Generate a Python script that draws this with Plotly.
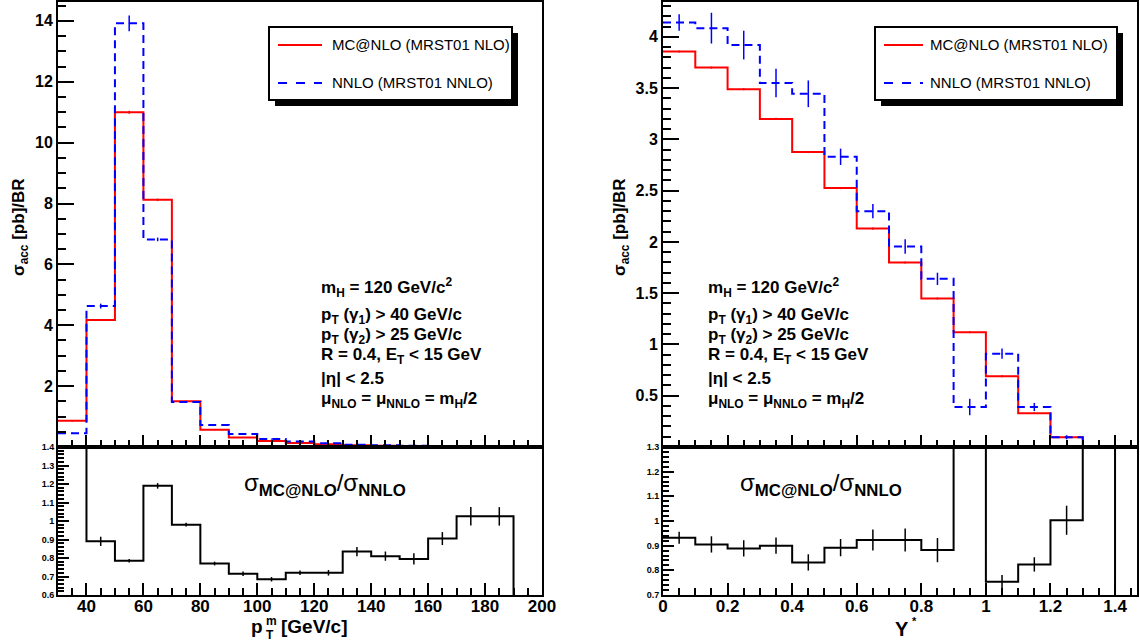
import plotly.graph_objects as go

W, H = 1140, 643

# ---------------- data ----------------
pt_edges = [30, 40, 50, 60, 70, 80, 90, 100, 110, 120, 130, 140, 150, 160, 170, 180, 190, 200]
mc_pt = [0.86, 4.17, 11.0, 8.12, 1.50, 0.57, 0.31, 0.20, 0.13, 0.09, 0.06, 0.045, 0.03, 0.02, 0.015, 0.01, 0.0]
mc_pt_err = [0.02, 0.03, 0.05, 0.04, 0.02, 0.01, 0.01, 0.01, 0.005, 0.005, 0.004, 0.003, 0.003, 0.002, 0.002, 0.001, 0.0]
nnlo_pt = [0.45, 4.63, 13.92, 6.82, 1.48, 0.72, 0.43, 0.26, 0.18, 0.125, 0.072, 0.056, 0.038, 0.022, 0.015, 0.01, 0.0]
nnlo_pt_err = [0.02, 0.08, 0.26, 0.06, 0.03, 0.02, 0.01, 0.01, 0.005, 0.005, 0.004, 0.003, 0.003, 0.002, 0.002, 0.001, 0.0]
ratio_pt = [1.9, 0.89, 0.785, 1.19, 0.98, 0.77, 0.715, 0.685, 0.72, 0.72, 0.835, 0.81, 0.795, 0.905, 1.025, 1.025, 0.0]
ratio_pt_err = [0.05, 0.025, 0.01, 0.015, 0.01, 0.01, 0.012, 0.012, 0.012, 0.015, 0.025, 0.025, 0.03, 0.035, 0.05, 0.05, 0.0]

y_edges = [0.0, 0.1, 0.2, 0.3, 0.4, 0.5, 0.6, 0.7, 0.8, 0.9, 1.0, 1.1, 1.2, 1.3, 1.4, 1.5]
mc_y = [3.857, 3.70, 3.49, 3.20, 2.876, 2.525, 2.13, 1.80, 1.449, 1.12, 0.69, 0.33, 0.095, 0.01, 0.0]
mc_y_err = [0.01, 0.01, 0.01, 0.01, 0.01, 0.01, 0.01, 0.01, 0.01, 0.01, 0.01, 0.005, 0.005, 0.002, 0.0]
nnlo_y = [4.14, 4.085, 3.92, 3.55, 3.445, 2.83, 2.30, 1.955, 1.64, 0.39, 0.91, 0.39, 0.095, 0.005, 0.0]
nnlo_y_err = [0.08, 0.15, 0.14, 0.14, 0.13, 0.08, 0.07, 0.07, 0.06, 0.08, 0.05, 0.04, 0.02, 0.005, 0.0]
ratio_y = [0.932, 0.905, 0.889, 0.90, 0.832, 0.892, 0.923, 0.923, 0.882, 2.9, 0.754, 0.824, 1.003, 2.0, 0.0]
ratio_y_err = [0.024, 0.033, 0.033, 0.033, 0.033, 0.035, 0.043, 0.047, 0.049, 0.1, 0.027, 0.029, 0.059, 0.1, 0.0]

legend_labels = ["MC@NLO (MRST01 NLO)", "NNLO (MRST01 NNLO)"]
info_lines = [
    "m<sub>H</sub> = 120 GeV/c<sup>2</sup>",
    "p<sub>T</sub> (γ<sub>1</sub>) &gt; 40 GeV/c",
    "p<sub>T</sub> (γ<sub>2</sub>) &gt; 25 GeV/c",
    "R = 0.4, E<sub>T</sub> &lt; 15 GeV",
    "|η| &lt; 2.5",
    "μ<sub>NLO</sub> = μ<sub>NNLO</sub> = m<sub>H</sub>/2",
]
ratio_label = "σ<sub><b>MC@NLO</b></sub>/σ<sub><b>NNLO</b></sub>"
ytitle = "<b>σ<sub>acc</sub> [pb]/BR</b>"
xtitle_left_parts = ["<b>p</b>", "<b>m</b>", "<b>T</b>", "<b>[GeV/c]</b>"]
xtitle_right = "<b>Y</b>"
xtitle_right_sup = "<b>*</b>"

RED = "#ff0000"
BLUE = "#0000ff"
FONT = "Liberation Sans"


def px(x):
    return x / W


def py(y):
    return 1 - y / H


def centers(edges):
    return [(edges[i] + edges[i + 1]) / 2 for i in range(len(edges) - 1)]


fig = go.Figure()


def add_hist(edges, vals, errs, color, dash, xa, ya, width=2):
    fig.add_trace(go.Scatter(
        x=edges, y=list(vals) + [vals[-1]], mode="lines", line_shape="hv",
        line=dict(color=color, width=width, dash=dash), xaxis=xa, yaxis=ya,
        showlegend=False, hoverinfo="skip"))
    fig.add_trace(go.Scatter(
        x=centers(edges), y=vals, mode="markers", marker=dict(size=1, color=color),
        error_y=dict(type="data", array=errs, color=color, thickness=1.5, width=0),
        xaxis=xa, yaxis=ya, showlegend=False, hoverinfo="skip"))


DASH = "8px,5px"
add_hist(pt_edges, mc_pt, mc_pt_err, RED, "solid", "x", "y")
add_hist(pt_edges, nnlo_pt, nnlo_pt_err, BLUE, DASH, "x", "y")
add_hist(pt_edges, ratio_pt, ratio_pt_err, "black", "solid", "x2", "y2")
add_hist(y_edges, mc_y, mc_y_err, RED, "solid", "x3", "y3")
add_hist(y_edges, nnlo_y, nnlo_y_err, BLUE, DASH, "x3", "y3")
add_hist(y_edges, ratio_y, ratio_y_err, "black", "solid", "x4", "y4")

common = dict(showline=True, linewidth=2, linecolor="black", mirror=True,
              showgrid=False, zeroline=False, ticks="inside", tickcolor="black",
              tickwidth=1.5, automargin=False)

tf_big = dict(family=FONT, size=16, color="black", weight="bold")
tf_small = dict(family=FONT, size=9, color="black", weight="bold")
tf_x = dict(family=FONT, size=17, color="black", weight="bold")

xl_dom = [px(58), px(542)]
xr_dom = [px(663), px(1137)]
top_dom = [py(447), py(2)]
bot_dom = [py(595), py(447)]

fig.update_layout(
    xaxis=dict(domain=xl_dom, range=[30, 200], anchor="y", showticklabels=False,
               tick0=0, dtick=20, ticklen=12,
               minor=dict(dtick=5, ticklen=7, ticks="inside", tickcolor="black"), **common),
    yaxis=dict(domain=top_dom, range=[0, 14.62], anchor="x",
               tickmode="array", tickvals=[2, 4, 6, 8, 10, 12, 14], ticklen=16,
               tickfont=tf_big,
               minor=dict(tickmode="linear", tick0=0, dtick=0.5, ticklen=8, ticks="inside", tickcolor="black"),
               **common),
    xaxis2=dict(domain=xl_dom, range=[30, 200], anchor="y2", tick0=0, dtick=20, ticklen=12,
                tickfont=tf_x, ticklabelstandoff=-5,
                minor=dict(dtick=5, ticklen=7, ticks="inside", tickcolor="black"), **common),
    yaxis2=dict(domain=bot_dom, range=[0.6, 1.4], anchor="x2", tick0=0.6, dtick=0.1, ticklen=11,
                tickfont=tf_small,
                minor=dict(dtick=0.02, ticklen=6, ticks="inside", tickcolor="black"), **common),
    xaxis3=dict(domain=xr_dom, range=[0, 1.468], anchor="y3", showticklabels=False,
                tick0=0, dtick=0.2, ticklen=12,
                minor=dict(dtick=0.05, ticklen=7, ticks="inside", tickcolor="black"), **common),
    yaxis3=dict(domain=top_dom, range=[0, 4.34], anchor="x3",
                tickmode="array", tickvals=[0.5, 1, 1.5, 2, 2.5, 3, 3.5, 4],
                ticktext=["0.5", "1", "1.5", "2", "2.5", "3", "3.5", "4"], ticklen=16,
                tickfont=tf_big,
                minor=dict(tickmode="linear", tick0=0, dtick=0.1, ticklen=8, ticks="inside", tickcolor="black"),
                **common),
    xaxis4=dict(domain=xr_dom, range=[0, 1.468], anchor="y4", tick0=0, dtick=0.2, ticklen=12,
                tickfont=tf_x, ticklabelstandoff=-5,
                minor=dict(dtick=0.05, ticklen=7, ticks="inside", tickcolor="black"), **common),
    yaxis4=dict(domain=bot_dom, range=[0.7, 1.3], anchor="x4", tick0=0.7, dtick=0.1, ticklen=11,
                tickfont=tf_small,
                minor=dict(dtick=0.02, ticklen=6, ticks="inside", tickcolor="black"), **common),
)

shapes = []
annotations = []

# legends (manual, ROOT-style with shadow)
for (bx0, bx1, lx0, lx1, tx) in [(269, 512, 278, 322, 330), (875, 1117, 884, 923, 928)]:
    by0, by1 = 27, 100
    shapes.append(dict(type="rect", xref="paper", yref="paper",
                       x0=px(bx0 + 6), x1=px(bx1 + 6), y0=py(by1 + 6), y1=py(by0 + 6),
                       fillcolor="black", line=dict(width=0), layer="above"))
    shapes.append(dict(type="rect", xref="paper", yref="paper",
                       x0=px(bx0), x1=px(bx1), y0=py(by1), y1=py(by0),
                       fillcolor="white", line=dict(color="black", width=2), layer="above"))
    for row_y, color, dash, label in [(45, RED, "solid", legend_labels[0]),
                                      (83, BLUE, "dash", legend_labels[1])]:
        shapes.append(dict(type="line", xref="paper", yref="paper",
                           x0=px(lx0), x1=px(lx1), y0=py(row_y), y1=py(row_y),
                           line=dict(color=color, width=2, dash=dash), layer="above"))
        annotations.append(dict(text=label, xref="paper", yref="paper", x=px(tx), y=py(row_y),
                                xanchor="left", yanchor="middle", showarrow=False,
                                font=dict(family=FONT, size=15, color="black")))

# info text blocks
line_ys = [287, 316, 336, 356, 378, 400]
for x0 in (319, 706):
    for txt, ly in zip(info_lines, line_ys):
        annotations.append(dict(text="<b>" + txt + "</b>", xref="paper", yref="paper",
                                x=px(x0), y=py(ly), xanchor="left", yanchor="middle",
                                showarrow=False, font=dict(family=FONT, size=17, color="black")))

# ratio labels
for x0 in (242, 738):
    annotations.append(dict(text=ratio_label, xref="paper", yref="paper", x=px(x0), y=py(484),
                            xanchor="left", yanchor="middle", showarrow=False,
                            font=dict(family=FONT, size=24, color="black")))

# axis titles
for x0 in (20, 621):
    annotations.append(dict(text=ytitle, xref="paper", yref="paper", x=px(x0), y=py(227),
                            xanchor="center", yanchor="middle", textangle=-90, showarrow=False,
                            font=dict(family=FONT, size=17, color="black")))

# x title left: p with stacked T (sub) and m (sup), then [GeV/c]
p_txt, m_txt, t_txt, unit_txt = xtitle_left_parts
annotations.append(dict(text=p_txt, xref="paper", yref="paper", x=px(264), y=py(626),
                        xanchor="right", yanchor="middle", showarrow=False, borderpad=0,
                        font=dict(family=FONT, size=19, color="black")))
annotations.append(dict(text=m_txt, xref="paper", yref="paper", x=px(265), y=py(620.5),
                        xanchor="left", yanchor="middle", showarrow=False, borderpad=0,
                        font=dict(family=FONT, size=12, color="black")))
annotations.append(dict(text=t_txt, xref="paper", yref="paper", x=px(265), y=py(634.5),
                        xanchor="left", yanchor="middle", showarrow=False, borderpad=0,
                        font=dict(family=FONT, size=12, color="black")))
annotations.append(dict(text=unit_txt, xref="paper", yref="paper", x=px(280), y=py(626),
                        xanchor="left", yanchor="middle", showarrow=False, borderpad=0,
                        font=dict(family=FONT, size=19, color="black")))

annotations.append(dict(text=xtitle_right, xref="paper", yref="paper", x=px(902), y=py(629),
                        xanchor="center", yanchor="middle", showarrow=False,
                        font=dict(family=FONT, size=20, color="black")))
annotations.append(dict(text=xtitle_right_sup, xref="paper", yref="paper", x=px(914), y=py(621),
                        xanchor="center", yanchor="middle", showarrow=False,
                        font=dict(family=FONT, size=11, color="black")))

fig.update_layout(width=W, height=H, margin=dict(l=0, r=0, t=0, b=0),
                  paper_bgcolor="white", plot_bgcolor="white",
                  shapes=shapes, annotations=annotations, showlegend=False)

fig.write_html("out.html", config={"displayModeBar": False},
               post_script="document.body.style.margin='0';document.body.style.overflow='hidden';")
